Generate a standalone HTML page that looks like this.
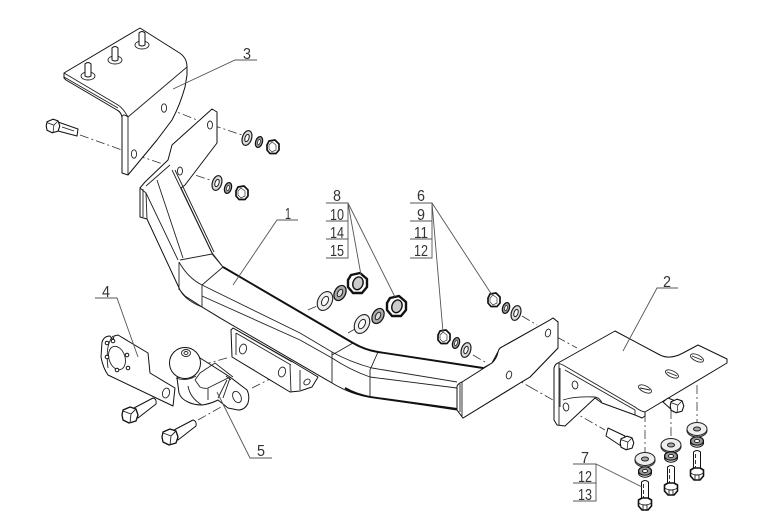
<!DOCTYPE html>
<html><head><meta charset="utf-8"><style>
html,body{margin:0;padding:0;background:#fff}
svg{display:block}
text{font-family:"Liberation Sans",sans-serif;font-size:16px;fill:#333;text-anchor:middle}
.t{stroke:#555;stroke-width:.9;fill:none}
.d{stroke:#333;stroke-width:.8;fill:none;stroke-dasharray:9 3 2 3}
.o{stroke:#111;stroke-width:1;fill:#fff;stroke-linejoin:round}
.l{stroke:#222;stroke-width:.9;fill:none}
.b{stroke:#111;stroke-width:1.9;fill:none}
</style></head><body>
<svg width="772" height="518" viewBox="0 0 772 518" xmlns="http://www.w3.org/2000/svg">
<defs>
<g id="w"><ellipse rx="4.6" ry="7.6" transform="rotate(18)" fill="#ddd" stroke="#222" stroke-width="1.2"/><ellipse rx="2" ry="3.8" transform="rotate(18)" fill="#fff" stroke="#222"/></g>
<g id="s"><ellipse rx="3.4" ry="5.6" transform="rotate(18)" fill="#999" stroke="#111" stroke-width="1.2"/><ellipse rx="1.3" ry="2.6" transform="rotate(18)" fill="#fff" stroke="#222" stroke-width=".7"/></g>
<g id="W"><ellipse rx="7" ry="10" transform="rotate(28)" fill="#eee" stroke="#222" stroke-width="1.1"/><ellipse rx="3" ry="5" transform="rotate(28)" fill="#fff" stroke="#222"/></g>
<g id="S"><ellipse rx="5.5" ry="8" transform="rotate(28)" fill="#aaa" stroke="#111" stroke-width="1.2"/><ellipse rx="2.3" ry="4" transform="rotate(28)" fill="#ddd" stroke="#222"/></g>
<g id="n"><path d="M-4 -6 L2 -7 L6 -3 L6 3 L3 6.5 L-3 6.5 L-6 3 L-6 -2Z" fill="#fff" stroke="#111" stroke-width="1.7" stroke-linejoin="round"/><path d="M-1 -5 L3 -2 L3 3 L-1 5 L-4 2 L-4 -2Z" fill="#fff" stroke="#333" stroke-width=".7"/></g>
<g id="N"><path d="M-6 -8 L3 -10 L10 -4 L10 4 L5 10 L-4 10 L-9 4 L-9 -3Z" fill="#fff" stroke="#111" stroke-width="2.4" stroke-linejoin="round"/><ellipse cx="1" cy="0" rx="5" ry="6.5" transform="rotate(20)" fill="#ccc" stroke="#111" stroke-width="1.4"/></g>
<g id="hw"><ellipse rx="10" ry="6.5" fill="#eee" stroke="#222"/><ellipse rx="3.5" ry="2" fill="#aaa" stroke="#222"/><path d="M-10 0 v1.5 a10 6.5 0 0 0 20 0 v-1.5" fill="none" stroke="#222"/></g>
<g id="hs"><ellipse rx="6.5" ry="4.2" fill="#999" stroke="#111" stroke-width="1.2"/><ellipse rx="2.5" ry="1.6" fill="#fff" stroke="#222"/><path d="M-6.5 0 v2 a6.5 4.2 0 0 0 13 0 v-2" fill="none" stroke="#111"/></g>
<g id="hb"><path d="M-3.5 -22 Q0 -25 3.5 -22 L3.5 -2 L-3.5 -2Z" class="o"/><path d="M-1.5 -20 V-5" class="l" stroke-dasharray="4 2"/><path d="M-6.5 -4 L-3 -6 H3 L6.5 -4 V2 L3 6 H-3 L-6.5 2Z" fill="#fff" stroke="#111" stroke-width="1.6" stroke-linejoin="round"/><path d="M-6.5 -1 Q0 3 6.5 -1 M-2 1 V6 M2 1 V6" class="l"/></g>
<g id="hx"><path d="M-7 -5 L0 -8 L6 -6 L8 0 L6 6 L-1 8 L-7 5 L-8 0Z" fill="#fff" stroke="#111" stroke-width="1.3" stroke-linejoin="round"/><path d="M-7 -4 L1 -1 L6 -6 M1 -1 L0 8" class="l"/></g>
</defs>

<!-- dash lines -->
<path class="d" d="M80 135 L122 150 M136 155 L163 164 M180 170 L210 180 M167 108 L197 120 M212 125 L242 135 M308 310 L317 306 M348 333 L355 329 M522 316 L537 325 M473 355 L485 362 M557 337 L577 348 M530 387 L553 400 M570 410 L605 430 M645 413 V462 M671 410 V447 M697 385 V425 M198 420 L228 403 M252 388 L278 375 M202 365 L230 357 M511 376 L530 387"/>

<!-- bracket 3 -->
<path class="o" d="M64 73 L140 28 L178 52 Q187 57 187 67 L187 75 L185 87 Q180 105 172 120 L157 140 L128 175 L122 173 L122 117 Q121 112 117 110 L66 80 L64 78 Z"/>
<path class="l" d="M64 73 L118 105 Q123 108 128 117 L187 67 M128 117 V175 M64 77 L118 108 M122 117 Q123 113 128 117"/>
<ellipse cx="164" cy="108" rx="2.6" ry="4.2" class="l"/><ellipse cx="134" cy="154" rx="2.6" ry="4.2" class="l"/>
<g class="l" fill="#fff">
<ellipse cx="88" cy="76" rx="7" ry="4"/><path class="o" d="M85 64 V76 Q88 78 91 76 V64 Q88 61 85 64Z"/>
<ellipse cx="115" cy="60" rx="7" ry="4"/><path class="o" d="M112 48 V60 Q115 62 118 60 V48 Q115 45 112 48Z"/>
<ellipse cx="142" cy="45" rx="7" ry="4"/><path class="o" d="M139 33 V45 Q142 47 145 45 V33 Q142 30 139 33Z"/>
</g>
<!-- bolt top-left -->
<path class="o" d="M58 122 L78 129 L77 136 L58 131Z"/><path class="l" d="M62 127 L74 131"/>
<use href="#hx" transform="translate(53 126) scale(.85)"/>
<use href="#w" x="247" y="138"/><use href="#s" x="259" y="142"/><use href="#n" x="273" y="147"/>
<use href="#w" x="217" y="183"/><use href="#s" x="228" y="188"/><use href="#n" x="242" y="193"/>

<!-- bar body -->
<path class="o" d="M212 109 L217 112 L217 143 L185 185 L181 188 L212 253 L223 267 L300 312 L353 343 Q365 350 378 352 L483 368 L492 363 L500 348 L550 320 L553 318 L558 322 L558 348 L530 377 L520 383 L463 418 L457 410 L370 397 Q352 395 332 383 L220 318 L202 307 L185 296 Q182 293 180 290 L147 219 L140 217 L140 188 L145 182 L168 160 L172 145 Z"/>
<path class="l" d="M146 193 L178 260 M157 180 L183 258 M172 170 L212 253 M175 170 L214 252 M146 186 L170 165"/>
<path class="l" d="M140 188 L146 193 L147 219 M143 189 V217 M180 260 L212 254 M179 262 V290 M179 262 Q188 278 202 285 L300 333 L332 352 Q350 362 372 368 L457 382 M223 267 L202 285 M212 254 L223 267"/>
<path class="l" d="M202 285 V307 M202 296 L300 340 L332 358 Q350 370 370 377 L457 388 M332 352 V383 M353 343 L332 355 M378 352 L370 370 V397"/>
<path class="b" d="M223 267 L300 312 L353 343 Q365 350 378 352 L483 368"/>
<path class="b" d="M345 388 Q355 394 370 397 L457 409"/>
<path class="l" d="M202 307 L232 325 M180 290 Q185 300 202 307"/>
<!-- right end plate -->
<path class="o" d="M462 382 L492 363 Q497 358 498 352 Q499 348 502 347 L550 320 L553 318 L558 322 L558 348 L530 377 L520 383 L463 418 L457 410 L457 387 Q457 384 462 382Z"/>
<path class="l" d="M462 382 V416 M460 384 V412"/>
<ellipse cx="509" cy="375" rx="2.6" ry="4" class="l" transform="rotate(15 509 375)"/><ellipse cx="548" cy="333" rx="2.6" ry="4" class="l" transform="rotate(15 548 333)"/>
<ellipse cx="210" cy="125" rx="2.5" ry="4" class="l"/><ellipse cx="180" cy="171" rx="2.5" ry="4" class="l"/>

<use href="#W" x="325" y="301"/><use href="#S" x="340" y="293"/><use href="#N" x="357" y="283"/>
<use href="#W" x="362" y="324"/><use href="#S" x="378" y="316"/><use href="#N" x="396" y="306"/>
<use href="#w" x="516" y="313"/><use href="#s" x="506" y="308"/><use href="#n" x="494" y="300"/>
<use href="#w" x="466" y="350"/><use href="#s" x="456" y="343"/><use href="#n" x="444" y="337"/>

<!-- under bracket -->
<path class="o" d="M233 328 L231 330 L232 357 L290 392 L300 391 L312 387 L318 377 L293 362 Z"/>
<path class="l" d="M236 333 V355 M233 328 L292 362 M236 333 L291 365 M290 365 L291 392 M300 370 V390"/>
<ellipse cx="243" cy="349" rx="3.5" ry="5" class="l" transform="rotate(15 243 349)"/><ellipse cx="282" cy="372" rx="3.5" ry="5" class="l" transform="rotate(15 282 372)"/><ellipse cx="307" cy="382" rx="2.5" ry="3.5" class="l" transform="rotate(50 307 382)"/>

<!-- plate 4 -->
<path class="o" d="M102 342 Q104 336 110 336 L113 340 L114 336 L118 335 L148 353 L150 373 L175 388 L173 406 L108 375 Q103 368 101 357Z"/>
<ellipse cx="117" cy="358" rx="8" ry="12" class="l" transform="rotate(-18 117 358)"/>
<path class="l" d="M113 336 Q105 345 108 368"/>
<g fill="#fff" stroke="#111"><circle cx="107" cy="343" r="1.8"/><circle cx="113" cy="341" r="1.8"/><circle cx="127" cy="355" r="1.8"/><circle cx="107" cy="357" r="1.8"/><circle cx="117" cy="370" r="1.8"/><circle cx="128" cy="368" r="1.8"/></g>
<ellipse cx="166" cy="393" rx="3.5" ry="5" class="l" transform="rotate(15 166 393)"/>
<!-- bolts -->
<path class="o" d="M134 408 L153 398 Q157 399 156 404 L138 418Z"/><use href="#hx" x="130" y="415"/>
<path class="o" d="M174 430 L193 420 Q197 421 196 426 L178 440Z"/><use href="#hx" x="170" y="437"/>

<!-- ball coupling -->
<path class="o" d="M200 358 L208 363 L230 377 L247 390 Q250 396 248 403 Q245 410 238 410 L228 408 L218 400 Q210 404 202 405 Q194 405 188 402 Q181 399 179 393 L177 378 Z"/>
<path class="l" d="M195 380 L200 387 Q204 389 208 388 L230 377 M208 388 V400 M200 373 L215 363 L233 377 M227 380 L218 398 M230 378 L223 398 M200 373 L195 380 M188 386 Q190 398 202 405 M226 376 L231 380"/>
<ellipse cx="237" cy="397" rx="4" ry="6" class="l" transform="rotate(-25 237 397)"/>
<circle cx="185" cy="363" r="15.5" class="o"/>
<path class="l" d="M176 378 Q186 382 196 376"/>
<ellipse cx="186" cy="353" rx="4.5" ry="3.5" class="l"/><ellipse cx="186" cy="353" rx="2" ry="1.5" class="l"/>

<!-- bracket 2 -->
<path class="o" d="M554 368 Q555 364 558 363 L615 331 L660 355 Q670 360 683 353 L698 345 L727 359 V363 L645 412 L645 416 L642 418 L635 415 L602 403 L595 398 L565 426 L557 425 L554 420Z"/>
<path class="l" d="M558 363 L563 365 L635 407 Q640 411 645 412 M559 364 V425 M565 370 L635 410 V415 M560 368 V407 M563 400 Q575 396 595 397 Q600 398 602 403"/>
<ellipse cx="575" cy="385" rx="2.8" ry="4" class="l" transform="rotate(-10 575 385)"/><ellipse cx="566" cy="407" rx="2.8" ry="4" class="l" transform="rotate(-10 566 407)"/>
<g class="l" fill="#fff"><ellipse cx="645" cy="389" rx="7" ry="3.2" transform="rotate(25 645 389)"/><ellipse cx="672" cy="374" rx="7" ry="3.2" transform="rotate(25 672 374)"/><ellipse cx="697" cy="358" rx="7" ry="3.2" transform="rotate(25 697 358)"/>
<path d="M640 388 L650 390 M667 372 L677 376 M692 356 L702 360"/></g>
<!-- bolt at under bracket 2 -->
<path class="o" d="M663 402 L668 398 L678 402 L674 412Z"/><use href="#hx" transform="translate(677 406) scale(.85)"/>
<!-- side bolt -->
<path class="o" d="M608 428 L625 436 L621 446 L606 436Z"/><use href="#hx" transform="translate(627 443) scale(.85)"/>

<use href="#hw" x="645" y="459"/><use href="#hs" x="645" y="471"/><use href="#hb" x="645" y="504"/>
<use href="#hw" x="671" y="445"/><use href="#hs" x="671" y="456"/><use href="#hb" x="671" y="489"/>
<use href="#hw" x="697" y="429"/><use href="#hs" x="697" y="441"/><use href="#hb" x="697" y="474"/>

<!-- leaders -->
<path class="t" d="M257 60 H235 L173 89 M298 220 H277 L233 285 M95 298 H117 L138 357 M272 458 H250 L217 392 M678 288 H657 L623 351"/>
<path class="t" d="M573 464 H596 V501 H573 M573 483 H596 M596 464 L642 487"/>
<path class="t" d="M326 203 H348 V258 H326 M326 221 H348 M326 239 H348 M348 203 L361 275 M348 203 L395 297"/>
<path class="t" d="M410 203 H432 V258 H410 M410 221 H432 M410 239 H432 M432 203 L492 295 M432 203 L443 332"/>

<g>
<text x="247" y="59" textLength="8" lengthAdjust="spacingAndGlyphs">3</text>
<text x="288" y="219" textLength="6" lengthAdjust="spacingAndGlyphs">1</text>
<text x="106" y="297" textLength="8" lengthAdjust="spacingAndGlyphs">4</text>
<text x="261" y="456" textLength="8" lengthAdjust="spacingAndGlyphs">5</text>
<text x="667" y="287" textLength="8" lengthAdjust="spacingAndGlyphs">2</text>
<text x="585" y="463" textLength="8" lengthAdjust="spacingAndGlyphs">7</text>
<text x="585" y="482" textLength="14" lengthAdjust="spacingAndGlyphs">12</text>
<text x="585" y="500" textLength="14" lengthAdjust="spacingAndGlyphs">13</text>
<text x="337" y="201" textLength="8" lengthAdjust="spacingAndGlyphs">8</text>
<text x="337" y="220" textLength="14" lengthAdjust="spacingAndGlyphs">10</text>
<text x="337" y="238" textLength="14" lengthAdjust="spacingAndGlyphs">14</text>
<text x="337" y="256" textLength="14" lengthAdjust="spacingAndGlyphs">15</text>
<text x="421" y="201" textLength="8" lengthAdjust="spacingAndGlyphs">6</text>
<text x="421" y="220" textLength="8" lengthAdjust="spacingAndGlyphs">9</text>
<text x="421" y="238" textLength="14" lengthAdjust="spacingAndGlyphs">11</text>
<text x="421" y="256" textLength="14" lengthAdjust="spacingAndGlyphs">12</text>
</g>
</svg>
</body></html>
